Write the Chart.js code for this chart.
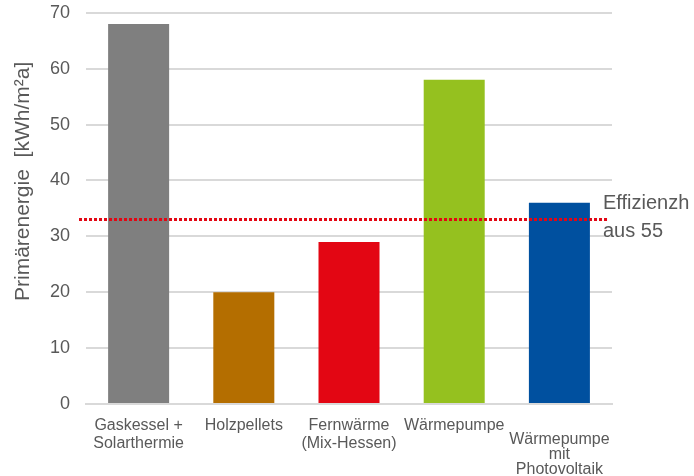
<!DOCTYPE html>
<html>
<head>
<meta charset="utf-8">
<script src="https://cdn.jsdelivr.net/npm/chart.js@4"></script>
<style>
  html, body { margin: 0; padding: 0; background: #fff; }
  #wrap { width: 694px; height: 476px; position: relative; }
</style>
</head>
<body>
<div id="wrap"><canvas id="chart"></canvas></div>
<script>
// Data
const categories = [
  ['Gaskessel +', 'Solarthermie'],
  'Holzpellets',
  ['Fernwärme', '(Mix-Hessen)'],
  'Wärmepumpe',
  ['', 'Wärmepumpe', 'mit', 'Photovoltaik']
];
const primaryEnergy = [68, 20, 29, 58, 36];
const barColors = ['#7f7f7f', '#b46e00', '#e30613', '#95c11f', '#00509f'];
const referenceValue = [33];
const referenceLabel = ['Effizienzh', 'aus 55'];
const yTitle = 'Primärenergie  [kWh/m²a]';

const textColor = '#595959';
const fontFamily = '"Liberation Sans", Arial, sans-serif';

// Dotted reference line, its label and the y title
const overlayPlugin = {
  id: 'overlay',
  afterDatasetsDraw(chart) {
    const { ctx, chartArea, scales } = chart;
    const y = scales.y.getPixelForValue(referenceValue[0]);
    ctx.save();
    ctx.strokeStyle = '#e30613';
    ctx.lineWidth = 3;
    ctx.setLineDash([3, 2]);
    ctx.beginPath();
    ctx.moveTo(chartArea.left - 7, y);
    ctx.lineTo(chartArea.right - 4, y);
    ctx.stroke();
    ctx.setLineDash([]);
    ctx.fillStyle = textColor;
    ctx.font = '20px ' + fontFamily;
    ctx.textBaseline = 'middle';
    ctx.textAlign = 'left';
    ctx.fillText(referenceLabel[0], chartArea.right - 9, y - 16);
    ctx.fillText(referenceLabel[1], chartArea.right - 9, y + 12);

    // y axis title
    ctx.font = '21px ' + fontFamily;
    ctx.translate(23, (chartArea.top + chartArea.bottom) / 2 - 27);
    ctx.rotate(-Math.PI / 2);
    ctx.textAlign = 'center';
    ctx.fillText(yTitle, 0, 0);
    ctx.restore();
  }
};

const ctx = document.getElementById('chart').getContext('2d');
new Chart(ctx, {
  type: 'bar',
  data: {
    labels: categories,
    datasets: [{
      data: primaryEnergy,
      backgroundColor: barColors,
      borderWidth: 0,
      categoryPercentage: 1,
      barPercentage: 0.58
    }]
  },
  options: {
    responsive: true,
    maintainAspectRatio: false,
    animation: false,
    layout: { padding: { top: 0, right: 82, bottom: -14, left: 48 } },
    plugins: {
      legend: { display: false },
      tooltip: { enabled: false }
    },
    scales: {
      x: {
        grid: { display: false, drawTicks: false },
        border: { color: '#d9d9d9', width: 2 },
        ticks: {
          color: textColor,
          font: (c) => ({
            family: fontFamily,
            size: 16,
            lineHeight: c.index === categories.length - 1 ? '15px' : '18px'
          }),
          maxRotation: 0,
          autoSkip: false,
          padding: 13
        }
      },
      y: {
        min: 0,
        max: 70,
        grid: {
          color: '#d9d9d9',
          lineWidth: 2,
          drawTicks: true,
          tickLength: 14,
          tickColor: 'rgba(0,0,0,0)'
        },
        border: { display: false },
        ticks: {
          stepSize: 10,
          color: textColor,
          font: { family: fontFamily, size: 18 },
          padding: 2
        }
      }
    }
  },
  plugins: [overlayPlugin]
});
</script>
</body>
</html>
